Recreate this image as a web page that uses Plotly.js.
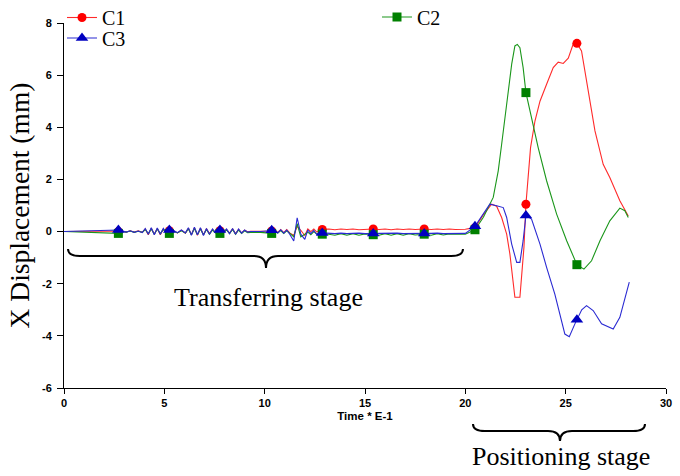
<!DOCTYPE html>
<html>
<head>
<meta charset="utf-8">
<script src="https://cdn.plot.ly/plotly-3.0.1.min.js"></script>
<style>html,body{margin:0;padding:0;background:#fff;}#chart{width:680px;height:476px;}</style>
</head>
<body>
<div id="chart"></div>
<script>
// ---------- DATA ----------
var T_TRANSFER = [0, 2.71, 2.9, 3.1, 3.3, 3.5, 3.7, 3.9, 4.05, 4.2, 4.35, 4.5, 4.65, 4.8, 4.95, 5.1, 5.25, 5.45, 5.65, 5.85,
  6.05, 6.2, 6.35, 6.5, 6.65, 6.8, 6.95, 7.1, 7.25, 7.4, 7.55, 7.77, 7.95, 8.1, 8.25, 8.4, 8.55, 8.7, 8.85, 9.0,
  9.15, 9.3, 9.8, 10.35, 10.5, 10.65, 10.8, 10.95, 11.1, 11.25, 11.45, 11.62, 11.8, 12.0, 12.15, 12.3, 12.45, 12.6, 12.75, 12.87,
  13.2, 13.5, 13.8, 14.1, 14.4, 14.7, 15.0, 15.41, 15.7, 16.0, 16.3, 16.6, 16.9, 17.2, 17.5, 17.95, 18.3, 18.6, 18.9, 19.2,
  19.5, 19.8, 20.0];

var C1_TRANSFER = [0, 0, 0.02, -0.02, 0.03, -0.02, 0.03, -0.03, 0.1, -0.12, 0.13, -0.1, 0.12, -0.12, 0.1, -0.04, 0.03, 0.04, -0.05, 0.05,
  -0.06, 0.13, -0.12, 0.15, -0.14, 0.13, -0.12, 0.1, -0.08, 0.08, -0.03, 0.03, -0.02, 0.08, -0.06, 0.1, -0.08, 0.08, -0.05, 0.05,
  -0.01, 0.01, 0.01, 0.02, 0.07, -0.03, 0.08, -0.04, 0.08, -0.05, -0.15, 0.2, 0.05, -0.15, 0.1, 0.0, 0.1, -0.02, 0.08, 0.08,
  0.1, 0.07, 0.1, 0.08, 0.1, 0.07, 0.09, 0.1, 0.08, 0.1, 0.07, 0.1, 0.08, 0.1, 0.08, 0.1, 0.08, 0.1, 0.08, 0.1,
  0.08, 0.09, 0.09];

var C2_TRANSFER = [0, -0.07, 0.0, -0.02, 0.02, -0.03, 0.01, -0.03, 0.08, -0.08, 0.1, -0.1, 0.1, -0.08, 0.08, -0.06, -0.07, 0.02, -0.05, 0.03,
  -0.06, 0.1, -0.12, 0.12, -0.12, 0.1, -0.12, 0.08, -0.1, 0.06, -0.05, -0.07, -0.04, 0.06, -0.08, 0.08, -0.1, 0.06, -0.07, 0.03,
  -0.04, -0.03, -0.03, -0.07, 0.02, -0.06, 0.04, -0.07, 0.03, -0.08, -0.2, 0.3, -0.2, -0.1, -0.02, -0.12, 0.0, -0.1, -0.06, -0.1,
  -0.1, -0.14, -0.08, -0.14, -0.08, -0.14, -0.09, -0.12, -0.14, -0.08, -0.14, -0.08, -0.14, -0.08, -0.13, -0.1, -0.14, -0.08, -0.13, -0.09,
  -0.1, -0.1, -0.1];

var C3_TRANSFER = [0, 0.06, 0.03, -0.02, 0.03, -0.03, 0.02, -0.04, 0.12, -0.1, 0.15, -0.12, 0.14, -0.1, 0.12, -0.06, 0.06, 0.05, -0.04, 0.06,
  -0.05, 0.15, -0.14, 0.17, -0.12, 0.15, -0.15, 0.12, -0.1, 0.1, -0.04, 0.06, -0.03, 0.1, -0.08, 0.12, -0.1, 0.1, -0.06, 0.06,
  -0.02, 0.0, 0.0, 0.05, 0.05, -0.05, 0.07, -0.06, 0.06, -0.1, -0.36, 0.53, -0.1, -0.3, 0.06, -0.08, 0.05, -0.12, 0.02, -0.05,
  -0.06, -0.08, -0.06, -0.08, -0.07, -0.06, -0.08, -0.07, -0.06, -0.08, -0.07, -0.06, -0.08, -0.07, -0.06, -0.07, -0.07, -0.06, -0.08, -0.07,
  -0.07, -0.07, -0.07];

var C1_T_POS = [20.48, 20.9, 21.31, 21.56, 21.81, 22.06, 22.22, 22.36, 22.47, 22.72, 22.8, 22.92, 23.02, 23.13, 23.25, 23.47, 23.72, 24.05,
  24.38, 24.63, 24.88, 25.0, 25.13, 25.38, 25.56, 25.79, 26.04, 26.46, 26.87, 27.2, 27.7, 28.12];
var C1_POS = [0.15, 0.65, 1.05, 0.97, 0.54, -0.1, -0.86, -1.76, -2.52, -2.52, -1.62, -0.61, 1.05, 2.08, 3.22, 4.24, 5.0, 5.65,
  6.29, 6.5, 6.45, 6.55, 6.65, 7.2, 7.22, 6.93, 5.78, 3.86, 2.58, 2.07, 1.18, 0.6];

var C2_T_POS = [20.48, 20.9, 21.39, 21.64, 21.81, 21.97, 22.14, 22.31, 22.47, 22.59, 22.72, 22.88, 23.02, 23.3, 23.63, 24.05, 24.55,
  25.05, 25.56, 25.91, 26.29, 26.71, 27.2, 27.7, 27.95, 28.12];
var C2_POS = [0.07, 0.55, 1.31, 2.33, 3.35, 4.37, 5.52, 6.42, 7.12, 7.18, 7.05, 6.29, 5.33, 4.37, 3.22, 1.95, 0.67,
  -0.35, -1.27, -1.44, -1.12, -0.35, 0.41, 0.9, 0.8, 0.54];

var C3_T_POS = [20.48, 20.9, 21.22, 21.56, 21.89, 22.06, 22.31, 22.56, 22.72, 22.88, 23.02, 23.3, 23.72, 24.05, 24.46, 24.96, 25.18,
  25.46, 25.56, 25.8, 26.04, 26.37, 26.79, 27.37, 27.7, 28.17];
var C3_POS = [0.2, 0.7, 1.05, 0.99, 0.92, 0.54, -0.48, -1.18, -1.18, -0.35, 0.62, 0.48, -0.48, -1.37, -2.4, -3.93, -4.03,
  -3.54, -3.38, -3.0, -2.84, -3.03, -3.54, -3.74, -3.29, -1.94];

var MARKER_TIMES = [2.71, 5.25, 7.77, 10.35, 12.87, 15.41, 17.95, 20.48, 23.02, 25.56];
var SERIES_NAMES = ['C1', 'C2', 'C3'];
var X_TICKS = [0, 5, 10, 15, 20, 25, 30];
var Y_TICKS = [-6, -4, -2, 0, 2, 4, 6, 8];

// ---------- LAYOUT HELPERS ----------
var W = 680, H = 476;
var M = {l: 64, r: 14, t: 23, b: 88, autoexpand: false};
var PW = W - M.l - M.r, PH = H - M.t - M.b;
function px(x) { return +((x - M.l) / PW).toFixed(5); }
function py(y) { return +((H - M.b - y) / PH).toFixed(5); }
function P(x, y) { return px(x) + ',' + py(y); }
function brace(x0, x1, xm, yTop, yLine, yTip, r) {
  return 'M' + P(x0, yTop) + ' Q' + P(x0, yLine) + ' ' + P(x0 + r, yLine) +
    ' L' + P(xm - r, yLine) + ' Q' + P(xm, yLine) + ' ' + P(xm, yTip) +
    ' Q' + P(xm, yLine) + ' ' + P(xm + r, yLine) +
    ' L' + P(x1 - r, yLine) + ' Q' + P(x1, yLine) + ' ' + P(x1, yTop);
}

var STYLE = [
  {line: '#ff2a2a', mark: '#ff0000', symbol: 'circle', size: 9, legend: 'legend'},
  {line: '#1a961a', mark: '#008000', symbol: 'square', size: 9, legend: 'legend2'},
  {line: '#2a2ad2', mark: '#0000c0', symbol: 'triangle-up', size: 11, legend: 'legend3'}
];

var SERIES = [
  {x: T_TRANSFER.concat(C1_T_POS), y: C1_TRANSFER.concat(C1_POS)},
  {x: T_TRANSFER.concat(C2_T_POS), y: C2_TRANSFER.concat(C2_POS)},
  {x: T_TRANSFER.concat(C3_T_POS), y: C3_TRANSFER.concat(C3_POS)}
];

var lineTraces = [], markerTraces = [], legendTraces = [];
SERIES.forEach(function (s, i) {
  var st = STYLE[i];
  lineTraces.push({x: s.x, y: s.y, type: 'scatter', mode: 'lines', showlegend: false, hoverinfo: 'skip',
    line: {color: st.line, width: 1.1}});
  var mx = [], my = [];
  s.x.forEach(function (t, k) { if (MARKER_TIMES.indexOf(t) >= 0) { mx.push(t); my.push(s.y[k]); } });
  markerTraces.push({x: mx, y: my, type: 'scatter', mode: 'markers', showlegend: false, hoverinfo: 'skip',
    marker: {symbol: st.symbol, color: st.mark, size: st.size, line: {width: 0}}});
  legendTraces.push({x: [null], y: [null], name: SERIES_NAMES[i], type: 'scatter', mode: 'lines+markers',
    legend: st.legend, line: {color: st.line, width: 1.1},
    marker: {symbol: st.symbol, color: st.mark, size: st.size, line: {width: 0}}});
});

var traces = lineTraces.concat(markerTraces).concat(legendTraces);

var legendFont = {family: 'Liberation Serif, Times New Roman, serif', size: 20, color: '#000'};
var tickFont = {family: 'Liberation Sans, Arial, sans-serif', size: 11, color: '#000', weight: 'bold'};

var layout = {
  width: W, height: H,
  margin: M,
  paper_bgcolor: '#fff', plot_bgcolor: '#fff',
  showlegend: true,
  legend: {x: px(62), y: py(17.5), xanchor: 'left', yanchor: 'middle', font: legendFont, bgcolor: 'rgba(0,0,0,0)', itemwidth: 30},
  legend2: {x: px(377), y: py(17), xanchor: 'left', yanchor: 'middle', font: legendFont, bgcolor: 'rgba(0,0,0,0)', itemwidth: 30},
  legend3: {x: px(62), y: py(38), xanchor: 'left', yanchor: 'middle', font: legendFont, bgcolor: 'rgba(0,0,0,0)', itemwidth: 30},
  xaxis: {
    range: [0, 30], tickvals: X_TICKS, ticktext: X_TICKS.map(String),
    showgrid: false, zeroline: false, showline: true, linecolor: '#000', linewidth: 1,
    ticks: 'outside', ticklen: 5, tickcolor: '#000', tickfont: tickFont,
    title: {text: 'Time * E-1', font: {family: 'Liberation Sans, Arial, sans-serif', size: 11.5, color: '#000', weight: 'bold'}, standoff: 3}
  },
  yaxis: {
    range: [-6, 8], tickvals: Y_TICKS, ticktext: Y_TICKS.map(String),
    showgrid: false, zeroline: false, showline: true, linecolor: '#000', linewidth: 1,
    ticks: 'outside', ticklen: 6, tickcolor: '#000', tickfont: tickFont, ticklabelstandoff: 3,
    title: {text: 'X Displacement (mm)', font: {family: 'Liberation Serif, Times New Roman, serif', size: 27.5, color: '#000'}, standoff: 4}
  },
  shapes: [
    {type: 'path', xref: 'paper', yref: 'paper', path: brace(68, 463, 266, 249, 256, 268, 12), line: {color: '#000', width: 2}},
    {type: 'path', xref: 'paper', yref: 'paper', path: brace(473, 645, 560, 424, 431, 441, 12), line: {color: '#000', width: 2}}
  ],
  annotations: [
    {text: 'Transferring stage', xref: 'paper', yref: 'paper', x: px(269), y: py(298), xanchor: 'center', yanchor: 'middle', showarrow: false,
     font: {family: 'Liberation Serif, Times New Roman, serif', size: 26, color: '#000'}},
    {text: 'Positioning stage', xref: 'paper', yref: 'paper', x: px(561), y: py(457), xanchor: 'center', yanchor: 'middle', showarrow: false,
     font: {family: 'Liberation Serif, Times New Roman, serif', size: 26, color: '#000'}}
  ]
};

Plotly.newPlot('chart', traces, layout, {displayModeBar: false, staticPlot: true});
</script>
</body>
</html>
